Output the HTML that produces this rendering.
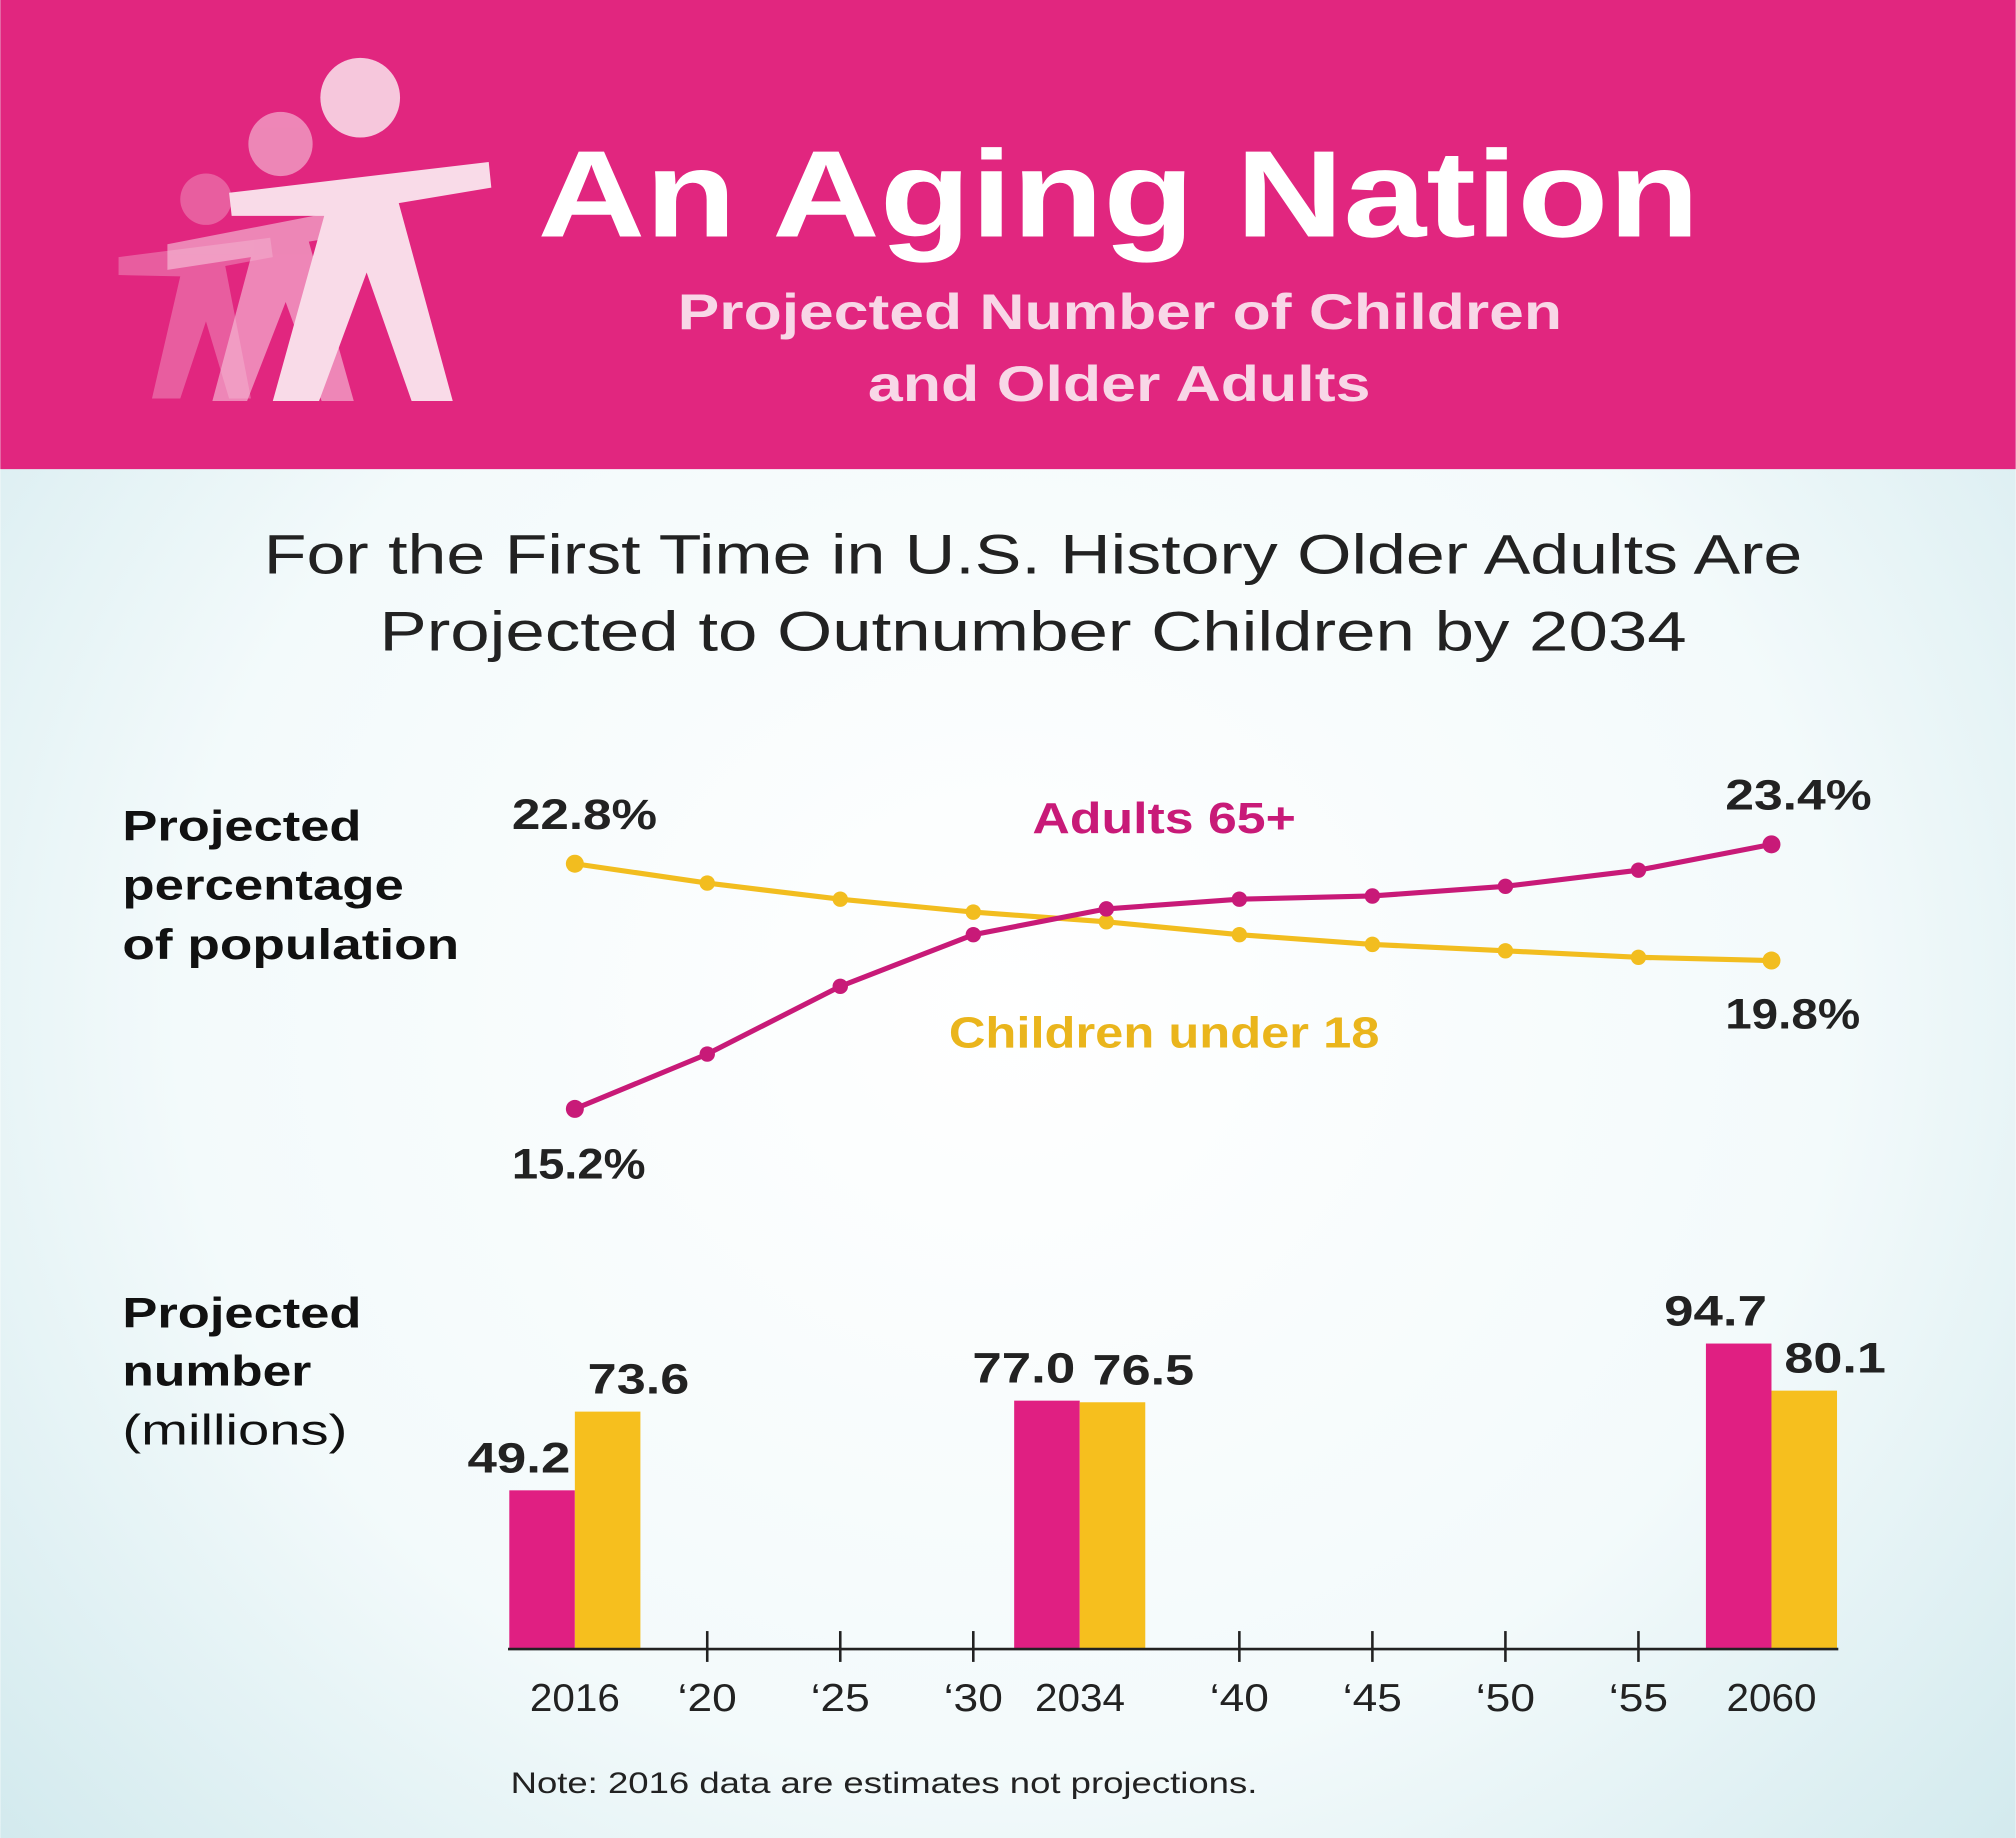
<!DOCTYPE html>
<html><head><meta charset="utf-8"><style>
html,body{margin:0;padding:0;width:2016px;height:1838px;overflow:hidden}
svg{display:block}
text{font-family:"Liberation Sans","DejaVu Sans",sans-serif}
</style></head><body>
<svg id="chart" width="2016" height="1838" viewBox="0 0 1568 1430" xmlns="http://www.w3.org/2000/svg">
<defs>
<radialGradient id="bg" cx="0.5" cy="0.55" r="0.75">
<stop offset="0" stop-color="#ffffff"/><stop offset="0.55" stop-color="#f3fafb"/><stop offset="1" stop-color="#c9e5ea"/>
</radialGradient>
</defs>
<rect x="0" y="0" width="1568" height="1430" fill="url(#bg)"/>
<rect x="0" y="0" width="1568" height="365" fill="#e1267f"/>
<g fill="#f6c7dc">
<g opacity="0.35"><circle cx="160" cy="155" r="20"/><path d="M92 200 L210 185 L212 200 L175 207 L195 310 L178 310 L160 250 L140 310 L118 310 L140 215 L92 214Z"/></g>
<g opacity="0.6"><circle cx="218" cy="112" r="25"/><path d="M130 190 L285 160 L288 180 L240 188 L275 312 L250 312 L222 235 L192 312 L165 312 L195 200 L130 210Z"/></g>
<circle cx="280" cy="76" r="31"/>
<path d="M178 150 L380 126 L382 146 L310 158 L352 312 L320 312 L285 212 L248 312 L212 312 L252 168 L180 168Z" fill="#f9dbe8"/>
</g>
<text x="418" y="184" font-size="96" font-weight="bold" fill="#ffffff" textLength="904" lengthAdjust="spacingAndGlyphs">An Aging Nation</text>
<text x="527" y="256" font-size="39" font-weight="bold" fill="#f8d7e7" textLength="688" lengthAdjust="spacingAndGlyphs">Projected Number of Children</text>
<text x="675" y="312" font-size="39" font-weight="bold" fill="#f8d7e7" textLength="391" lengthAdjust="spacingAndGlyphs">and Older Adults</text>
<text x="205" y="446" font-size="43" fill="#222" textLength="1197" lengthAdjust="spacingAndGlyphs">For the First Time in U.S. History Older Adults Are</text>
<text x="295" y="506" font-size="43" fill="#222" textLength="1017" lengthAdjust="spacingAndGlyphs">Projected to Outnumber Children by 2034</text>
<g font-size="33" font-weight="bold" fill="#111">
<text x="95" y="654" textLength="186" lengthAdjust="spacingAndGlyphs">Projected</text><text x="95" y="700" textLength="219" lengthAdjust="spacingAndGlyphs">percentage</text><text x="95" y="746" textLength="262" lengthAdjust="spacingAndGlyphs">of population</text></g>
<g font-size="33" fill="#111">
<text x="95" y="1033" font-weight="bold" textLength="186" lengthAdjust="spacingAndGlyphs">Projected</text><text x="95" y="1078" font-weight="bold" textLength="147" lengthAdjust="spacingAndGlyphs">number</text><text x="95" y="1124" textLength="175" lengthAdjust="spacingAndGlyphs">(millions)</text></g>
<g id="plot"></g>
<text x="397" y="1395" font-size="23" fill="#222" textLength="581" lengthAdjust="spacingAndGlyphs">Note: 2016 data are estimates not projections.</text>
</svg>
<script>
const lineYears=[2016,2020,2025,2030,2035,2040,2045,2050,2055,2060];
const childrenPct=[22.8,22.2,21.7,21.3,21.0,20.6,20.3,20.1,19.9,19.8];
const adultsPct=[15.2,16.9,19.0,20.6,21.4,21.7,21.8,22.1,22.6,23.4];
const barYears=[2016,2034,2060];
const adultsNum=[49.2,77.0,94.7];
const childrenNum=[73.6,76.5,80.1];
const barLabels=['49.2','77.0','94.7'];
const barLabelsC=['73.6','76.5','80.1'];
const tickYears=[2016,2020,2025,2030,2034,2040,2045,2050,2055,2060];
const tickLabels=['2016','‘20','‘25','‘30','2034','‘40','‘45','‘50','‘55','2060'];
const NS='http://www.w3.org/2000/svg';
const plot=document.getElementById('plot');
function x(yr){return yr<=2020?447+(yr-2016)*(103/4):550+(yr-2020)*(828/40);}
function yPct(p){return 672-(p-22.8)*25.1;}
function hNum(v){return v*2.51;}
const base=1283;
function mk(tag,attrs,parent){const e=document.createElementNS(NS,tag);for(const k in attrs)e.setAttribute(k,attrs[k]);(parent||plot).appendChild(e);return e;}
function series(vals,color,name){
  const p=mk('polyline',{points:vals.map((v,i)=>x(lineYears[i])+','+yPct(v)).join(' '),fill:'none',stroke:color,'stroke-width':4});
  
  
  vals.forEach((v,i)=>{const c=mk('circle',{cx:x(lineYears[i]),cy:yPct(v),r:i==0||i==vals.length-1?7:6,fill:color});
    
    });
}
series(childrenPct,'#f2bd1f','children');
series(adultsPct,'#c81a78','adults');
function txt(s,a){const t=mk('text',a);t.textContent=s;return t;}
const LA='spacingAndGlyphs';
let t;
t=txt(childrenPct[0].toFixed(1)+'%',{x:398,y:645,'font-size':33,'font-weight':'bold',fill:'#222',textLength:113,lengthAdjust:LA});

t=txt(adultsPct[0].toFixed(1)+'%',{x:398,y:917,'font-size':33,'font-weight':'bold',fill:'#222',textLength:104,lengthAdjust:LA});

t=txt(adultsPct[9].toFixed(1)+'%',{x:1342,y:630,'font-size':33,'font-weight':'bold',fill:'#222',textLength:114,lengthAdjust:LA});

t=txt(childrenPct[9].toFixed(1)+'%',{x:1342,y:800,'font-size':33,'font-weight':'bold',fill:'#222',textLength:105,lengthAdjust:LA});

t=txt('Adults 65+',{x:803,y:648,'font-size':34,'font-weight':'bold',fill:'#c81a78',textLength:205,lengthAdjust:LA});

t=txt('Children under 18',{x:738,y:815,'font-size':34,'font-weight':'bold',fill:'#eab51c',textLength:335,lengthAdjust:LA});

const bw=51;
barYears.forEach((yr,i)=>{
  const cx=x(yr);
  const ha=hNum(adultsNum[i]),hc=hNum(childrenNum[i]);
  const a=mk('rect',{x:cx-bw,y:base-ha,width:bw,height:ha,fill:'#e01f82'});
  
  
  const c=mk('rect',{x:cx,y:base-hc,width:bw,height:hc,fill:'#f6bf1e'});
  
  
  const la=txt(barLabels[i],{x:cx-bw/2-18,y:base-ha-14,'font-size':33,'font-weight':'bold',fill:'#222','text-anchor':'middle',textLength:80,lengthAdjust:LA});
  
  
  const lc=txt(barLabelsC[i],{x:cx+bw/2+24,y:base-hc-14,'font-size':33,'font-weight':'bold',fill:'#222','text-anchor':'middle',textLength:79,lengthAdjust:LA});
  
  
});
const ax=mk('line',{x1:395,y1:base,x2:1430,y2:base,stroke:'#222','stroke-width':2});


tickYears.forEach((yr,i)=>{
  if(barYears.indexOf(yr)<0){const tk=mk('line',{x1:x(yr),y1:base-14,x2:x(yr),y2:base+10,stroke:'#222','stroke-width':2});
    
    }
  const lx=yr===2034?840:yr===2060?1378:x(yr);
  const l=txt(tickLabels[i],{x:lx,y:1331,'font-size':30,fill:'#222','text-anchor':'middle',textLength:tickLabels[i].length===4?70:46,lengthAdjust:LA});
  
  
});
</script>
</body></html>
